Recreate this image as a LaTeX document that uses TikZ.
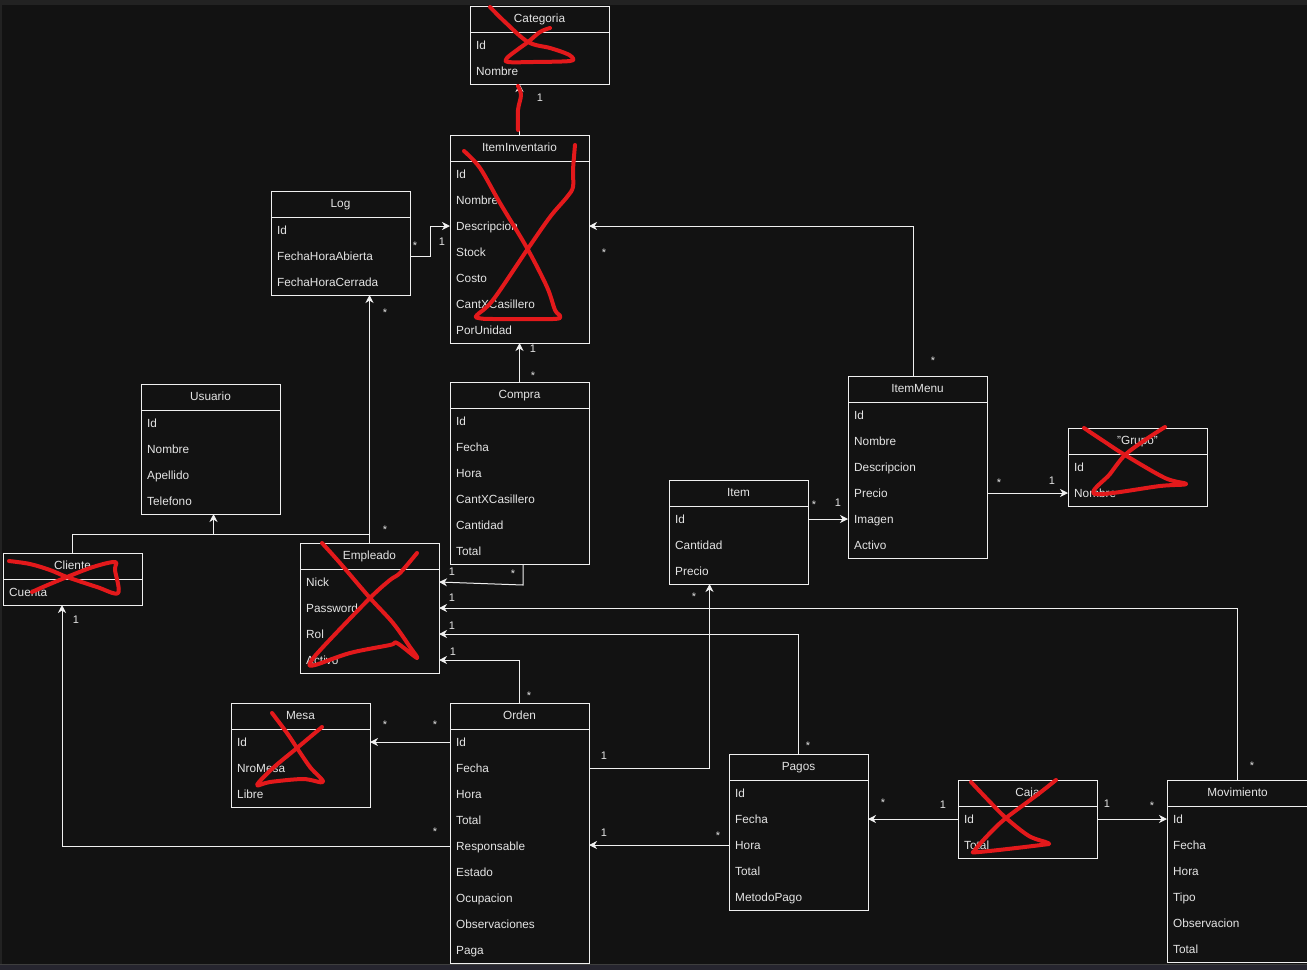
\documentclass[tikz,border=0pt]{standalone}
\usepackage{fontspec}
\setmainfont{Liberation Sans}
\usetikzlibrary{arrows.meta,calc}

\definecolor{bgclr}{HTML}{121212}
\definecolor{stripclr}{HTML}{222222}
\definecolor{barclr}{HTML}{26252F}
\definecolor{barline}{HTML}{3E3E3E}
\definecolor{ink}{HTML}{E4E4E4}
\definecolor{lineclr}{HTML}{F0F0F0}
\definecolor{redink}{HTML}{E3191B}

\tikzset{
  classbox/.style={draw=lineclr, line width=1pt, fill=bgclr, rectangle,
    inner sep=0pt, outer sep=0pt, minimum width=139pt, anchor=north west},
  classtitle/.style={text=ink, font=\fontsize{11.8}{14}\selectfont,
    inner sep=0pt, text height=8.5pt, text depth=0pt},
  classrow/.style={classtitle, anchor=west},
  divider/.style={draw=lineclr, line width=1pt},
  assoc/.style={draw=lineclr, line width=1pt,
    -{Stealth[length=8pt,width=8pt,inset=2.5pt]}},
  plainlink/.style={draw=lineclr, line width=1pt},
  mult/.style={text=ink, font=\fontsize{11}{13}\selectfont,
    inner sep=0pt, text height=8pt, text depth=0pt},
  mstar/.style={mult, yshift=-2pt},
  scribble/.style={draw=redink, line width=4pt, line cap=round, line join=round},
}

% [options]{name}{left}{top}{rows}{title}{attributes}
\newcommand{\umlclass}[7][]{%
  \node[classbox, minimum height={26*(1+#5)}, #1] (#2) at (#3,#4) {};
  \draw[divider] ($(#2.north west)+(0,26)$) -- ($(#2.north east)+(0,26)$);
  \node[classtitle] (#2-title) at ($(#2.north)+(0,12)$) {#6};
  \foreach \a [count=\i] in {#7}{
    \node[classrow] (#2-\i) at ($(#2.north west)+(6,13+26*\i)$) {\a};
  }
}

\begin{document}
\begin{tikzpicture}[x=1pt, y=-1pt]
  % canvas and window edges
  \useasboundingbox (0,0) rectangle (1307,970);
  \fill[bgclr] (0,0) rectangle (1307,970);
  \fill[stripclr] (0,0) rectangle (1307,4.5);
  \fill[stripclr] (0,0) rectangle (2,965);
  \fill[barclr] (0,965) rectangle (1307,970);
  \draw[barline, line width=1pt] (0,964.5) -- (1307,964.5);

  % classes
  \umlclass{cat}{470}{6}{2}{Categoria}{Id,Nombre}
  \umlclass{inv}{450}{135}{7}{ItemInventario}{Id,Nombre,Descripcion,Stock,Costo,CantXCasillero,PorUnidad}
  \umlclass{log}{271}{191}{3}{Log}{Id,FechaHoraAbierta,FechaHoraCerrada}
  \umlclass{usr}{141}{384}{4}{Usuario}{Id,Nombre,Apellido,Telefono}
  \umlclass{cli}{3}{553}{1}{Cliente}{Cuenta}
  \umlclass{emp}{300}{543}{4}{Empleado}{Nick,Password,Rol,Activo}
  \umlclass{buy}{450}{382}{6}{Compra}{Id,Fecha,Hora,CantXCasillero,Cantidad,Total}
  \umlclass{item}{669}{480}{3}{Item}{Id,Cantidad,Precio}
  \umlclass{menu}{848}{376}{6}{ItemMenu}{Id,Nombre,Descripcion,Precio,Imagen,Activo}
  \umlclass{grp}{1068}{428}{2}{"Grupo"}{Id,Nombre}
  \umlclass{mesa}{231}{703}{3}{Mesa}{Id,NroMesa,Libre}
  \umlclass{ord}{450}{703}{9}{Orden}{Id,Fecha,Hora,Total,Responsable,Estado,Ocupacion,Observaciones,Paga}
  \umlclass{pay}{729}{754}{5}{Pagos}{Id,Fecha,Hora,Total,MetodoPago}
  \umlclass{caja}{958}{780}{2}{Caja}{Id,Total}
  \umlclass[minimum width=141pt]{mov}{1167}{780}{6}{Movimiento}{Id,Fecha,Hora,Tipo,Observacion,Total}

  % associations
  \draw[assoc] (inv.north) -- (cat.south -| inv.north);
  \draw[assoc] (log.east |- log-2) -- ++(20,0) |- (inv.west |- inv-3);
  \draw[assoc] ($(menu.north)+(-4.5,0)$) |- (inv.east |- inv-3);
  \draw[assoc] (emp.north) -- (log.south -| emp.north);
  \draw[assoc] (buy.north) -- (inv.south);
  \draw[assoc] ($(buy.south)+(3.5,0)$) -- ++(0,21) -- (emp.east |- emp-1);
  \draw[assoc] (mov.north) |- (emp.east |- emp-2);
  \draw[assoc] (pay.north) |- (emp.east |- emp-3);
  \draw[assoc] (ord.north) |- (emp.east |- emp-4);
  \draw[assoc] (ord.west |- ord-1) -- (mesa.east |- ord-1);
  \draw[assoc] (ord.east |- ord-2) -| ($(item.south)+(-29,0)$);
  \draw[assoc] (ord.west |- ord-5) -| ($(cli.south)+(-10.5,0)$);
  \draw[assoc] (pay.west |- pay-3) -- (ord.east |- pay-3);
  \draw[assoc] (caja.west |- caja-1) -- (pay.east |- caja-1);
  \draw[assoc] (caja.east |- caja-1) -- (mov.west |- caja-1);
  \draw[assoc] (item.east |- item-1) -- (menu.west |- item-1);
  \draw[assoc] (menu.east |- menu-4) -- (grp.west |- menu-4);

  % generalisation towards Usuario
  \coordinate (inh) at ($(usr.south)+(3,20)$);
  \draw[assoc] (cli.north) |- (inh) -- (usr.south -| inh);
  \draw[plainlink] (emp.north) |- (inh);

  % multiplicities
  \node[mult]  (m1)  at (540,97)   {1};
  \node[mstar] (m2)  at (415,243)  {*};
  \node[mult]  (m3)  at (442,241)  {1};
  \node[mstar] (m4)  at (604,250)  {*};
  \node[mstar] (m5)  at (933,358)  {*};
  \node[mstar] (m6)  at (385,310)  {*};
  \node[mstar] (m7)  at (385,527)  {*};
  \node[mult]  (m8)  at (533,348)  {1};
  \node[mstar] (m9)  at (533,373)  {*};
  \node[mult]  (m10) at (452,571)  {1};
  \node[mstar] (m11) at (513,571)  {*};
  \node[mult]  (m12) at (452,597)  {1};
  \node[mstar] (m13) at (1252,763) {*};
  \node[mult]  (m14) at (452,625)  {1};
  \node[mstar] (m15) at (808,743)  {*};
  \node[mult]  (m16) at (453,651)  {1};
  \node[mstar] (m17) at (529,693)  {*};
  \node[mstar] (m18) at (385,722)  {*};
  \node[mstar] (m19) at (435,722)  {*};
  \node[mult]  (m20) at (604,755)  {1};
  \node[mstar] (m21) at (694,594)  {*};
  \node[mstar] (m22) at (435,829)  {*};
  \node[mult]  (m23) at (76,619)   {1};
  \node[mult]  (m24) at (604,832)  {1};
  \node[mstar] (m25) at (718,833)  {*};
  \node[mstar] (m26) at (883,800)  {*};
  \node[mult]  (m27) at (943,804)  {1};
  \node[mult]  (m28) at (1107,803) {1};
  \node[mstar] (m29) at (1152,803) {*};
  \node[mstar] (m30) at (814,502)  {*};
  \node[mult]  (m31) at (838,502)  {1};
  \node[mstar] (m32) at (999,480)  {*};
  \node[mult]  (m33) at (1052,480) {1};

  % red marker strokes
  \draw[scribble] plot[smooth, tension=0.55] coordinates {
    (490,7) (505,22) (528,42) (550,48) (565,53) (572,57) (570,61)
    (533,62) (508,62) (507,58) (517,50) (528,42) (540,32) (550,28)};
  \draw[scribble] plot[smooth, tension=0.55] coordinates {
    (518,86) (521,95) (518,110) (518,130)};
  \draw[scribble] plot[smooth, tension=0.55] coordinates {
    (464,151) (480,168) (500,203) (527,248) (547,287) (555,310) (560,316)
    (553,319) (493,319) (478,318) (477,315) (493,300) (527,250) (550,217)
    (567,197) (573,187) (573,170) (575,145)};
  \draw[scribble] plot[smooth, tension=0.55] coordinates {
    (9,561) (30,564) (50,570) (67,577) (97,587) (118,593)
    (115,570) (115,562) (93,567) (67,577) (43,587) (32,592)};
  \draw[scribble] plot[smooth, tension=0.55] coordinates {
    (322,543) (340,563) (370,598) (393,623) (410,647) (417,658)
    (397,643) (390,645) (350,653) (315,665) (310,663) (323,647)
    (370,598) (390,580) (400,573) (417,553)};
  \draw[scribble] plot[smooth, tension=0.55] coordinates {
    (272,713) (287,733) (297,748) (310,767) (323,782)
    (303,779) (270,782) (257,785) (273,768) (297,748) (322,727)};
  \draw[scribble] plot[smooth, tension=0.55] coordinates {
    (1084,428) (1105,442) (1125,455) (1165,478) (1186,484)
    (1160,486) (1095,494) (1110,474) (1125,455) (1145,440) (1165,427)};
  \draw[scribble] plot[smooth, tension=0.55] coordinates {
    (971,782) (990,802) (1006,818) (1029,836) (1048,843)
    (1041,845) (979,852) (975,850) (990,833) (1006,818) (1037,795) (1056,780)};
\end{tikzpicture}
\end{document}
